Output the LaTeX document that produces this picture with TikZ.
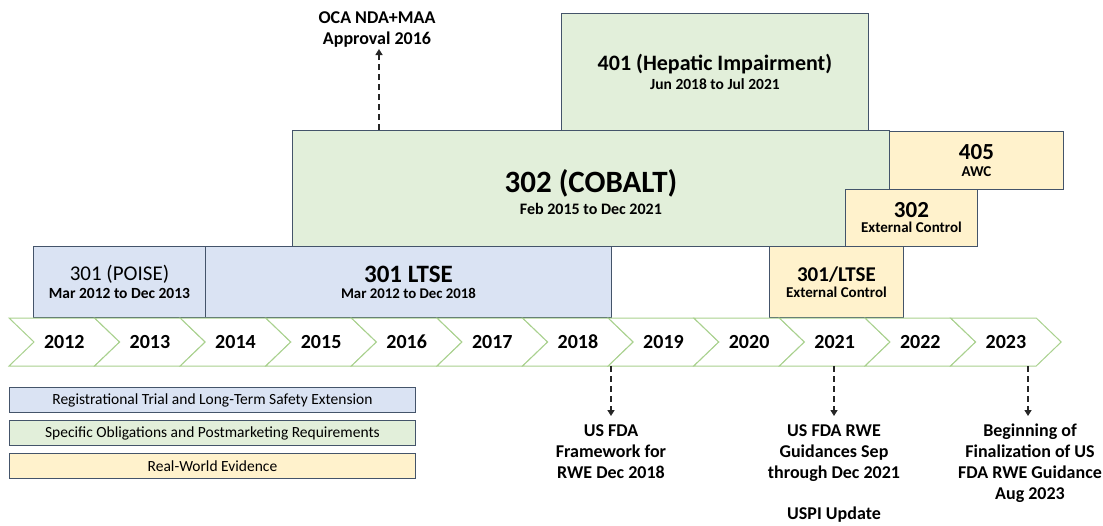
\documentclass[tikz,border=0pt]{standalone}
\usepackage{fontspec}
\setmainfont{Carlito}
\usetikzlibrary{positioning, arrows.meta}

\definecolor{trialblue}{HTML}{DAE3F3}
\definecolor{obliggreen}{HTML}{E2EFDA}
\definecolor{rweyellow}{HTML}{FFF2CC}
\definecolor{edgeslate}{HTML}{44546A}
\definecolor{chevgreen}{HTML}{A9D18E}
\definecolor{inkgray}{HTML}{262626}

\newcommand{\fsz}[1]{\fontsize{#1}{#1}\selectfont}

\begin{document}
\begin{tikzpicture}[x=1pt, y=-1pt, line join=miter]
        \tikzset{
          study/.style={draw=edgeslate, line width=0.9pt, align=center, inner sep=0pt, anchor=north west},
          chevron/.style={draw=chevgreen, line width=1pt, fill=white},
          yearlabel/.style={font=\fsz{20}\bfseries, inner sep=0pt},
          legendbox/.style={draw=edgeslate, line width=0.9pt, minimum width=406pt, minimum height=25pt,
                            anchor=north west, inner sep=0pt, font=\fsz{15.5}},
          milestone/.style={font=\fontsize{18}{21}\selectfont\bfseries, align=center, inner sep=1pt},
          dasharrow/.style={draw=inkgray, line width=1.5pt, dash pattern=on 6pt off 4pt,
                            -{Triangle[width=7pt,length=6pt]}}
        }
        \useasboundingbox (0,0) rectangle (1103,525);

        % studies
        \node[study, fill=obliggreen, minimum width=307pt, minimum height=117pt] (hepatic) at (561,13)
          {\fsz{22}\bfseries 401 (Hepatic Impairment)\\[4pt] \fsz{15.5}\bfseries Jun 2018 to Jul 2021};
        \node[study, fill=obliggreen, minimum width=597pt, minimum height=116pt] (cobalt) at (292,130)
          {\fsz{31}\bfseries\rule{0pt}{30pt}302 (COBALT)\\[5pt] \fsz{16}\bfseries Feb 2015 to Dec 2021};
        \node[study, fill=rweyellow, minimum width=174pt, minimum height=58pt] (awc) at (889,131)
          {\fsz{23}\bfseries 405\\[5pt] \fsz{15}\bfseries AWC};
        \node[study, fill=rweyellow, minimum width=132pt, minimum height=57pt] (cobaltec) at (845,189)
          {\fsz{23}\bfseries 302\\[3pt] \fsz{15}\bfseries External Control};
        \node[study, fill=rweyellow, minimum width=134pt, minimum height=71pt] (ltseec) at (769,246)
          {\fsz{21}\bfseries 301/LTSE\\[4pt] \fsz{15}\bfseries External Control};
        \node[study, fill=trialblue, minimum width=172pt, minimum height=71pt] (poise) at (33,246)
          {\fsz{21}301 (POISE)\\[4pt] \fsz{15.5}\bfseries Mar 2012 to Dec 2013};
        \node[study, fill=trialblue, minimum width=406pt, minimum height=71pt] (ltse) at (205,246)
          {\fsz{25}\bfseries 301 LTSE\\[4pt] \fsz{14.8}\bfseries Mar 2012 to Dec 2018};

        % timeline
        \foreach \yr [count=\i from 0] in {2012,...,2023} {
          \pgfmathsetmacro\xa{9+85.6*\i}
          \draw[chevron] (\xa,318) -- ++(85.6,0) -- ++(25,24) -- ++(-25,24) -- ++(-85.6,0) -- ++(25,-24) -- cycle;
          \node[yearlabel] (y\yr) at (\xa+55.3,342) {\yr};
        }

        % legend
        \node[legendbox, fill=trialblue] (leg1) at (9,387) {Registrational Trial and Long-Term Safety Extension};
        \node[legendbox, fill=obliggreen] (leg2) at (9,420) {Specific Obligations and Postmarketing Requirements};
        \node[legendbox, fill=rweyellow] (leg3) at (9,453) {Real-World Evidence};

        % milestones
        \node[milestone, anchor=south] (approval) at (377,49) {OCA NDA+MAA\\Approval 2016};
        \node[milestone, anchor=north] (framework) at (611,423) {US FDA\\Framework for\\RWE Dec 2018};
        \node[milestone, anchor=north] (guidances) at (834,423) {US FDA RWE\\Guidances Sep\\through Dec 2021\\[20pt]USPI Update};
        \node[milestone, anchor=north] (finalize) at (1030,423) {Beginning of\\Finalization of US\\FDA RWE Guidance\\Aug 2023};

        \coordinate (approvalfoot) at (379,130);
        \coordinate (t2018) at (611,366);
        \coordinate (t2021) at (834,366);
        \coordinate (t2023) at (1028,366);
        \draw[dasharrow] (approvalfoot) -- (approvalfoot |- approval.south);
        \draw[dasharrow, shorten >=7pt] (t2018) -- (t2018 |- framework.north);
        \draw[dasharrow, shorten >=7pt] (t2021) -- (t2021 |- guidances.north);
        \draw[dasharrow, shorten >=7pt] (t2023) -- (t2023 |- finalize.north);
\end{tikzpicture}
\end{document}
